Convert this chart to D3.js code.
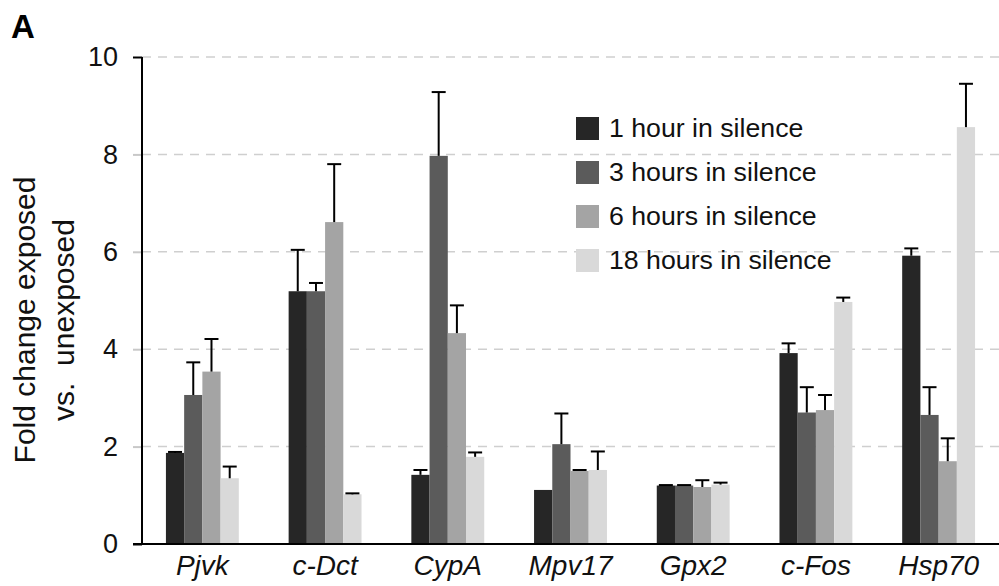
<!DOCTYPE html>
<html>
<head>
<meta charset="utf-8">
<script src="https://cdn.jsdelivr.net/npm/d3@7"></script>
<style>
  html, body { margin: 0; padding: 0; background: #fff; }
  svg { display: block; font-family: "Liberation Sans", Arial, Helvetica, sans-serif; }
</style>
</head>
<body>
<svg id="chart" width="999" height="586"></svg>
<script>
const categories = ["Pjvk", "c-Dct", "CypA", "Mpv17", "Gpx2", "c-Fos", "Hsp70"];
const seriesNames = ["1 hour in silence", "3 hours in silence", "6 hours in silence", "18 hours in silence"];
const values1h  = [1.87, 5.19, 1.42, 1.11, 1.20, 3.92, 5.92];
const errors1h  = [0.02, 0.85, 0.10, 0.00, 0.01, 0.20, 0.15];
const values3h  = [3.06, 5.19, 7.97, 2.05, 1.20, 2.70, 2.65];
const errors3h  = [0.67, 0.17, 1.31, 0.63, 0.01, 0.52, 0.57];
const values6h  = [3.54, 6.61, 4.33, 1.50, 1.17, 2.75, 1.70];
const errors6h  = [0.67, 1.19, 0.57, 0.02, 0.14, 0.31, 0.47];
const values18h = [1.35, 1.02, 1.79, 1.52, 1.22, 4.97, 8.56];
const errors18h = [0.24, 0.02, 0.09, 0.38, 0.04, 0.09, 0.89];
const yTicks = [0, 2, 4, 6, 8, 10];
const colors = ["#262626", "#5b5b5b", "#a4a4a4", "#d9d9d9"];

const seriesValues = [values1h, values3h, values6h, values18h];
const seriesErrors = [errors1h, errors3h, errors6h, errors18h];

const svg = d3.select("#chart");
const x0 = 142, x1 = 999, yTop = 57, yBottom = 544;

const x = d3.scaleBand().domain(categories).range([x0, x1]).paddingInner(0.406).paddingOuter(0.195);
const xs = d3.scaleBand().domain(d3.range(seriesNames.length)).range([0, x.bandwidth()]).padding(0);
const y = d3.scaleLinear().domain([0, 10]).range([yBottom, yTop]);

// gridlines
svg.append("g").selectAll("line").data(yTicks.filter(d => d > 0)).join("line")
  .attr("x1", x0).attr("x2", x1)
  .attr("y1", d => y(d)).attr("y2", d => y(d))
  .attr("stroke", "#cfcfcf").attr("stroke-width", 1.5).attr("stroke-dasharray", "9,7");

// bars
const data = [];
categories.forEach((c, i) => {
  seriesNames.forEach((s, j) => {
    data.push({ cat: c, s: j, v: seriesValues[j][i], e: seriesErrors[j][i] });
  });
});

svg.append("g").selectAll("rect").data(data).join("rect")
  .attr("x", d => x(d.cat) + xs(d.s))
  .attr("width", xs.bandwidth())
  .attr("y", d => y(d.v))
  .attr("height", d => y(0) - y(d.v))
  .attr("fill", d => colors[d.s]);

// error bars
const eg = svg.append("g").attr("stroke", "#000").attr("stroke-width", 2);
data.filter(d => d.e > 0).forEach(d => {
  const cx = x(d.cat) + xs(d.s) + xs.bandwidth() / 2;
  eg.append("line").attr("x1", cx).attr("x2", cx).attr("y1", y(d.v)).attr("y2", y(d.v + d.e));
  eg.append("line").attr("x1", cx - 7).attr("x2", cx + 7).attr("y1", y(d.v + d.e)).attr("y2", y(d.v + d.e));
});

// y axis
const yAxis = d3.axisLeft(y).tickValues(yTicks).tickSize(9).tickPadding(15).tickFormat(d3.format("d"));
const ya = svg.append("g").attr("transform", `translate(${x0},0)`).call(yAxis);
ya.select(".domain").remove();
ya.selectAll(".tick line").attr("stroke", d => (d === 0 || d === 10) ? "#000" : "#c8c8c8").attr("stroke-width", 2);
ya.selectAll(".tick text").attr("font-size", 27).attr("fill", "#111").attr("font-family", "Liberation Sans, Arial, sans-serif");
svg.append("line").attr("x1", x0).attr("x2", x0).attr("y1", y(10)).attr("y2", y(0) + 1)
  .attr("stroke", "#000").attr("stroke-width", 2);

// x axis
const xAxis = d3.axisBottom(x).tickSize(0).tickPadding(11);
const xa = svg.append("g").attr("transform", `translate(0,${yBottom})`).call(xAxis);
xa.select(".domain").remove();
xa.selectAll(".tick text").attr("font-size", 28).attr("font-style", "italic").attr("fill", "#111")
  .attr("font-family", "Liberation Sans, Arial, sans-serif");
svg.append("line").attr("x1", x0 - 9).attr("x2", x1).attr("y1", yBottom).attr("y2", yBottom)
  .attr("stroke", "#000").attr("stroke-width", 2);

// y label
const yl = svg.append("text").attr("transform", "translate(34.5,320) rotate(-90)")
  .attr("text-anchor", "middle").attr("font-size", 30).attr("fill", "#111")
  .style("white-space", "pre");
yl.append("tspan").attr("x", 0).attr("y", 0).text("Fold change exposed");
yl.append("tspan").attr("x", 0).attr("y", 39).text("vs.  unexposed");

// panel letter
svg.append("text").attr("x", 11).attr("y", 38).attr("font-size", 33).attr("font-weight", "bold")
  .attr("fill", "#000").text("A");

// legend
const lg = svg.append("g").attr("transform", "translate(576,117)");
seriesNames.forEach((s, j) => {
  lg.append("rect").attr("x", 0).attr("y", j * 44).attr("width", 23).attr("height", 23).attr("fill", colors[j]);
  lg.append("text").attr("x", 33).attr("y", j * 44 + 20).attr("font-size", 26.7).attr("fill", "#111").text(s);
});
</script>
</body>
</html>
